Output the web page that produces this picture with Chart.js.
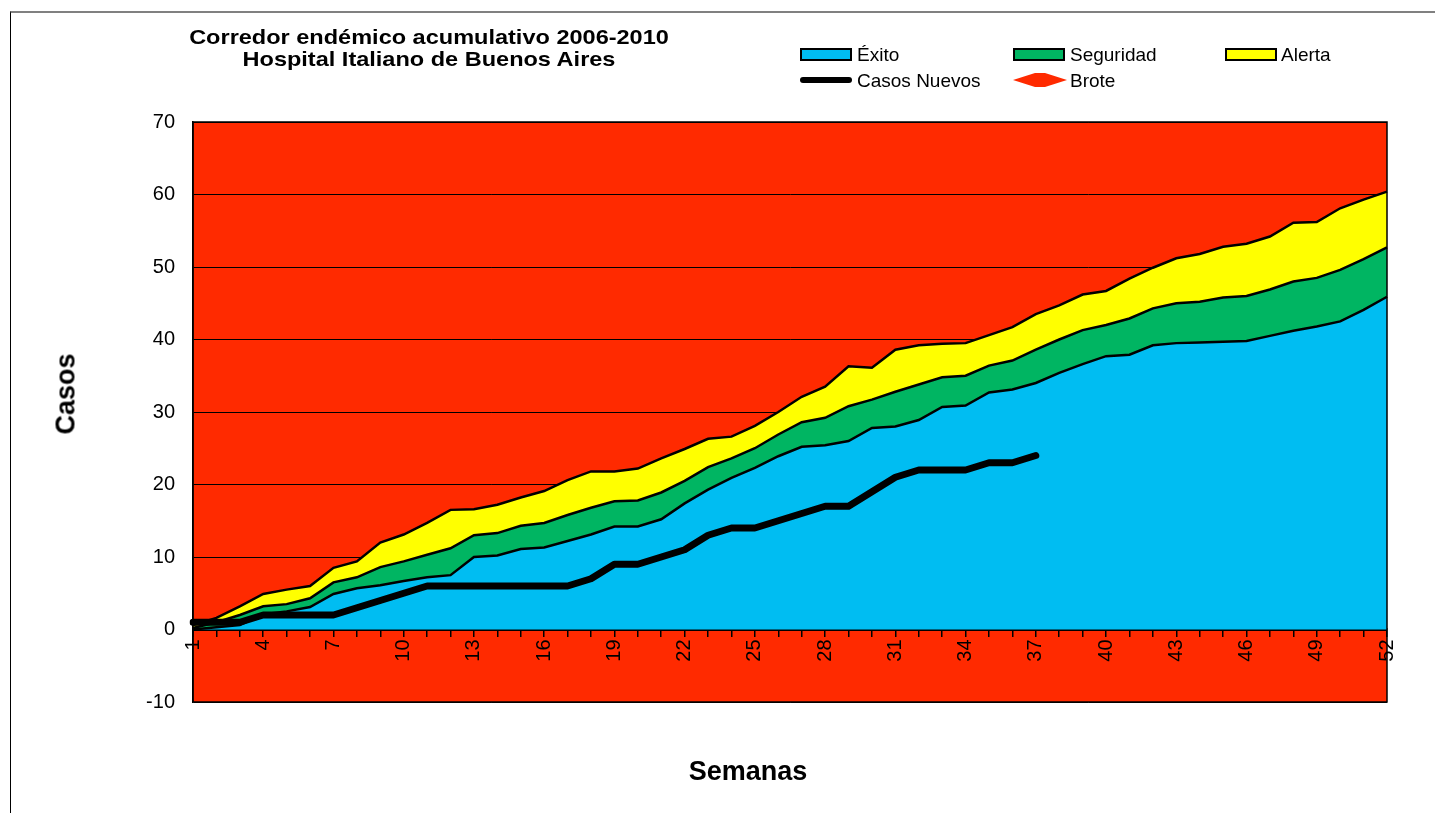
<!DOCTYPE html>
<html>
<head>
<meta charset="utf-8">
<script src="https://cdn.jsdelivr.net/npm/chart.js@4"></script>
<style>
  body { margin: 0; background: #fff; font-family: "Liberation Sans", Arial, sans-serif; }
  #wrap { position: relative; width: 1435px; height: 813px; overflow: hidden; }
  #frame { position: absolute; left: 10px; top: 11px; width: 1500px; height: 900px;
           border-left: 1px solid #000; border-top: 2px solid #808080; }
  #title { position: absolute; left: 179px; top: 26px; width: 500px; text-align: center; white-space: nowrap;
           font-weight: bold; font-size: 21px; line-height: 22px; transform: scaleX(1.12); }
  .axisTitle { position: absolute; font-weight: bold; font-size: 27px; white-space: nowrap; }
  #yTitle { left: 66px; top: 394px; transform: translate(-50%, -50%) rotate(-90deg); }
  #xTitle { left: 748px; top: 771px; transform: translate(-50%, -50%); }
  .leg { position: absolute; font-size: 19px; line-height: 20px; white-space: nowrap; }
  .box { position: absolute; width: 48px; height: 9px; border: 2px solid #000; }
  canvas { position: absolute; left: 0; top: 0; }
</style>
</head>
<body>
<div id="wrap">
  <div id="frame"></div>
  <canvas id="corredorChart" width="1435" height="813"></canvas>

  <div id="title">Corredor endémico acumulativo 2006-2010<br>Hospital Italiano de Buenos Aires</div>
  <div class="axisTitle" id="yTitle">Casos</div>
  <div class="axisTitle" id="xTitle">Semanas</div>

  <!-- legend -->
  <div class="box" style="left:800px; top:48px; background:#00bdf2;"></div>
  <div class="leg" style="left:857px; top:45px;">Éxito</div>
  <div class="box" style="left:1013px; top:48px; background:#00b562;"></div>
  <div class="leg" style="left:1070px; top:45px;">Seguridad</div>
  <div class="box" style="left:1225px; top:48px; background:#ffff00;"></div>
  <div class="leg" style="left:1281px; top:45px;">Alerta</div>
  <div style="position:absolute; left:800px; top:77px; width:52px; height:6px; background:#000; border-radius:3px;"></div>
  <div class="leg" style="left:857px; top:71px;">Casos Nuevos</div>
  <svg style="position:absolute; left:1013px; top:73px;" width="54" height="14">
    <polygon points="0,7 22,0 32,0 54,7 32,14 22,14" fill="#ff2a00"/>
  </svg>
  <div class="leg" style="left:1070px; top:71px;">Brote</div>
</div>

<script>
// semanas epidemiologicas
const weeks = ['1','2','3','4','5','6','7','8','9','10','11','12','13','14','15','16','17','18','19','20',
  '21','22','23','24','25','26','27','28','29','30','31','32','33','34','35','36','37','38','39','40',
  '41','42','43','44','45','46','47','48','49','50','51','52'];

// limites acumulados del corredor
const exito = [0, 0.3, 0.6, 2.1, 2.5, 3.1, 4.9, 5.7, 6.1, 6.7, 7.2, 7.5, 10.0, 10.2, 11.1, 11.3, 12.2, 13.1,
  14.2, 14.2, 15.2, 17.4, 19.3, 20.9, 22.3, 23.9, 25.2, 25.4, 26.0, 27.8, 28.0, 28.9, 30.7, 30.9, 32.7,
  33.1, 34.0, 35.4, 36.6, 37.7, 37.9, 39.2, 39.5, 39.6, 39.7, 39.8, 40.5, 41.2, 41.8, 42.5, 44.1, 45.9];

const seguridad = [0.2, 1.0, 2.0, 3.2, 3.5, 4.3, 6.5, 7.2, 8.6, 9.4, 10.3, 11.2, 13.0, 13.3, 14.3, 14.7,
  15.8, 16.8, 17.7, 17.8, 18.9, 20.5, 22.4, 23.6, 25.0, 26.9, 28.6, 29.2, 30.8, 31.7, 32.8, 33.8, 34.8,
  35.0, 36.4, 37.1, 38.6, 40.0, 41.3, 42.0, 42.9, 44.3, 45.0, 45.2, 45.8, 46.0, 46.9, 48.0, 48.5, 49.6,
  51.1, 52.7];

const alerta = [0.6, 1.6, 3.2, 4.9, 5.5, 6.0, 8.5, 9.4, 12.0, 13.1, 14.7, 16.5, 16.6, 17.2, 18.2, 19.1,
  20.6, 21.8, 21.8, 22.2, 23.6, 24.9, 26.3, 26.6, 28.1, 30.0, 32.1, 33.5, 36.3, 36.1, 38.6, 39.2, 39.4,
  39.5, 40.6, 41.7, 43.5, 44.7, 46.2, 46.7, 48.4, 49.9, 51.2, 51.8, 52.8, 53.2, 54.2, 56.1, 56.2, 58.1,
  59.3, 60.4];

// casos acumulados del año en curso (hasta semana 37)
const casosNuevos = [1, 1, 1, 2, 2, 2, 2, 3, 4, 5, 6, 6, 6, 6, 6, 6, 6, 7, 9, 9, 10, 11, 13, 14, 14, 15,
  16, 17, 17, 19, 21, 22, 22, 22, 23, 23, 24];

const yTicks = [-10, 0, 10, 20, 30, 40, 50, 60, 70];

// fondo rojo (brote) y marco del area de trazado
const plotArea = {
  id: 'plotArea',
  beforeDraw(chart) {
    const a = chart.chartArea, ctx = chart.ctx;
    ctx.save();
    ctx.fillStyle = '#ff2a00';
    ctx.fillRect(a.left, a.top, a.right - a.left, a.bottom - a.top);
    ctx.restore();
  },
  afterDraw(chart) {
    const a = chart.chartArea, ctx = chart.ctx;
    ctx.save();
    ctx.strokeStyle = '#000';
    ctx.lineWidth = 1.5;
    ctx.strokeRect(a.left, a.top, a.right - a.left, a.bottom - a.top);
    ctx.restore();
  }
};

new Chart(document.getElementById('corredorChart'), {
  type: 'line',
  data: {
    labels: weeks,
    datasets: [
      {
        label: 'Casos Nuevos',
        data: casosNuevos,
        borderColor: '#000',
        borderWidth: 7,
        borderCapStyle: 'round',
        borderJoinStyle: 'round',
        fill: false
      },
      {
        label: 'Éxito',
        data: exito,
        borderColor: '#000',
        borderWidth: 2.5,
        backgroundColor: '#00bdf2',
        fill: 'origin'
      },
      {
        label: 'Seguridad',
        data: seguridad,
        borderColor: '#000',
        borderWidth: 2.5,
        backgroundColor: '#00b562',
        fill: '-1'
      },
      {
        label: 'Alerta',
        data: alerta,
        borderColor: '#000',
        borderWidth: 2.5,
        backgroundColor: '#ffff00',
        fill: '-1'
      }
    ]
  },
  options: {
    responsive: false,
    animation: false,
    layout: { padding: { left: 0, top: 122, right: 48, bottom: 111 } },
    elements: { point: { radius: 0 }, line: { tension: 0 } },
    plugins: { legend: { display: false }, tooltip: { enabled: false } },
    scales: {
      x: {
        type: 'category',
        position: { y: 0 },
        offset: false,
        grid: { drawOnChartArea: false, color: '#000', lineWidth: 1.5, tickLength: 6 },
        border: { color: '#000', width: 3 },
        ticks: {
          autoSkip: false,
          minRotation: 90,
          maxRotation: 90,
          padding: 4,
          color: '#000',
          font: { family: 'Liberation Sans', size: 20 },
          callback: function (value, index) {
            return index % 3 === 0 ? weeks[index] : '';
          }
        }
      },
      y: {
        min: yTicks[0],
        max: yTicks[yTicks.length - 1],
        afterFit: function (scale) { scale.width = 193; },
        grid: { color: '#000', lineWidth: 1, drawTicks: false },
        border: { color: '#000', width: 1.5 },
        ticks: {
          stepSize: 10,
          padding: 18,
          color: '#000',
          font: { family: 'Liberation Sans', size: 20 }
        }
      }
    }
  },
  plugins: [plotArea]
});
</script>
</body>
</html>
